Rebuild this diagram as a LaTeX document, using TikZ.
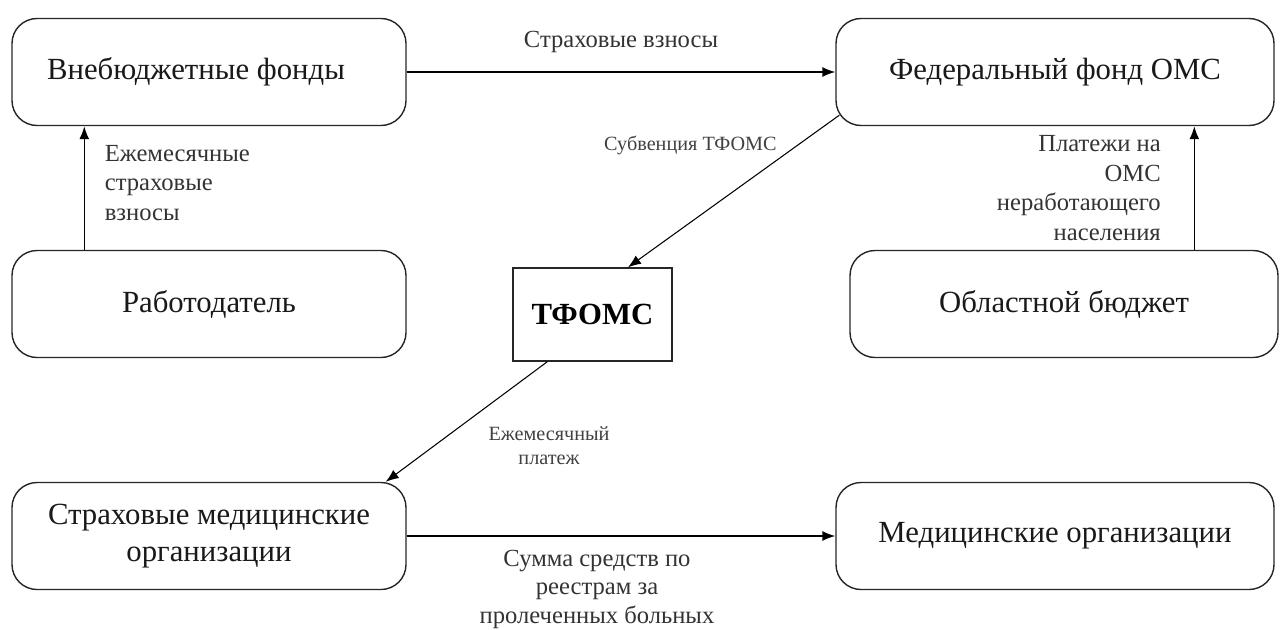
\documentclass[tikz,border=0pt]{standalone}
\usepackage{fontspec}
\setmainfont{Liberation Serif}
\newfontfamily\tnr{Liberation Serif}
\usetikzlibrary{shapes,arrows.meta}

\begin{document}
\begin{tikzpicture}[x=0.2mm,y=-0.2mm]
\tikzset{
block/.style={rectangle,rounded corners=5mm,draw=black!85,thick,text=black!90,
minimum width=78.8mm,minimum height=21.4mm,text centered,align=center,
font=\tnr\fontsize{17.5}{21}\selectfont,node distance=46.4mm},
sqblock/.style={rectangle,draw=black!85,thick,minimum width=31.8mm,minimum height=18.6mm,
text centered,font=\tnr\fontsize{17.5}{21}\selectfont\bfseries},
myarrow/.style={-{Latex[length=2.6mm,width=2mm]}, thick},
thinarrow/.style={-{Latex[length=2.6mm,width=2mm]}, semithick},
mylabel/.style={font=\tnr\fontsize{14}{16.8}\selectfont,text=black!80},
smalllabel/.style={font=\tnr\fontsize{11.5}{13.5}\selectfont,text=black!75,align=center},
}
\useasboundingbox (0,0) rectangle (1280,630);

\node [block] (fund) at (209,72) {\hspace*{-5.2mm}\raisebox{0.8mm}{Внебюджетные фонды}};
\node [block, below of=fund] (empl) {Работодатель};
\node [block, below of=empl] (smo) {Страховые медицинские\\организации};
\node [block, node distance=169.2mm, right of=fund, minimum width=87.6mm] (fed) {Федеральный фонд ОМС};
\node [block, below of=fed, xshift=1.8mm, minimum width=85.6mm] (budget) {Областной бюджет};
\node [block, below of=budget, xshift=-1.8mm, minimum width=87.6mm] (med) {Медицинские организации};
\node [sqblock, node distance=76.7mm, right of=empl, yshift=-2.1mm] (tfoms) {ТФОМС};

\draw[myarrow] (fund) -- node[mylabel,above=2.5mm] {Страховые взносы} (fed);
\draw[myarrow] ([xshift=14.6mm]empl.north west) -- node[mylabel,right=2.8mm,yshift=1mm,align=left]
  {Ежемесячные\\страховые\\взносы} ([xshift=14.6mm]fund.south west);
\draw[myarrow] ([xshift=69mm]budget.north west) -- node[mylabel,left=5.4mm,align=right]
  {Платежи на\\ОМС\\неработающего\\населения} ([xshift=69mm]budget.north west |- fed.south);
\draw[thinarrow] ([xshift=0.8mm,yshift=2.2mm]fed.south west) -- node[smalllabel,pos=0.2,left=2.8mm]
  {Субвенция ТФОМС} ([xshift=7.1mm]tfoms.north);
\draw[thinarrow] ([xshift=7mm]tfoms.south west) -- node[smalllabel,pos=0.7,right=9.6mm]
  {Ежемесячный\\платеж} ([xshift=-4.2mm]smo.north east);
\draw[myarrow] (smo) -- node[mylabel,below=1.6mm,xshift=-4.8mm,align=center,
  font=\tnr\fontsize{14}{16}\selectfont] {Сумма средств по\\реестрам за\\пролеченных больных} (med);
\end{tikzpicture}
\end{document}
